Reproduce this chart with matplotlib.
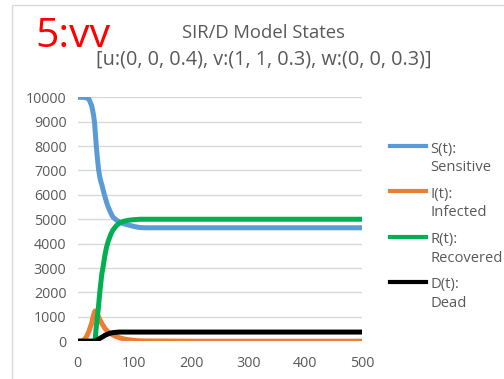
import matplotlib
matplotlib.use("Agg")
import matplotlib.pyplot as plt
from matplotlib.lines import Line2D
from matplotlib.patches import Rectangle

# values
t = [0, 5, 10, 15, 20, 25, 28, 30, 31, 33, 35, 37, 39, 41, 43, 45, 48, 51, 54,
     58, 62, 68, 74, 82, 90, 100, 110, 120, 200, 300, 400, 500]
S = [10000, 10000, 10000, 9980, 9930, 9650, 9300, 8950, 8650, 8000, 7500, 7050,
     6750, 6550, 6400, 6200, 5950, 5700, 5500, 5280, 5100, 4970, 4880, 4810,
     4760, 4700, 4660, 4650, 4650, 4650, 4650, 4650]
I = [0, 0, 30, 150, 400, 750, 1050, 1200, 1240, 1200, 1100, 1000, 900, 800,
     720, 650, 530, 450, 380, 310, 260, 190, 140, 90, 60, 30, 15, 10, 0, 0, 0, 0]
R = [0, 0, 0, 0, 0, 0, 0, 0, 50, 600, 1000, 1450, 1960, 2400, 2800, 3050, 3500,
     3850, 4100, 4350, 4550, 4730, 4850, 4920, 4960, 4985, 5000, 5000, 5000,
     5000, 5000, 5000]
D = [0, 0, 0, 0, 0, 0, 0, 0, 0, 20, 50, 80, 110, 140, 165, 190, 240, 270, 300,
     330, 350, 365, 375, 375, 375, 375, 375, 375, 375, 375, 375, 375]

labels = ["S(t):\nSensitive", "I(t):\nInfected", "R(t):\nRecovered", "D(t):\nDead"]
colors = ["#5B9BD5", "#ED7D31", "#00B050", "#000000"]
xticks = [0, 100, 200, 300, 400, 500]
yticks = list(range(0, 10001, 1000))

W, H = 504, 379
fig = plt.figure(figsize=(W / 100, H / 100), dpi=100)
plt.rcParams['font.family'] = ['Open Sans', 'DejaVu Sans']
grey = "#595959"

# chart frame
fig.add_artist(Rectangle((12 / W, -0.1), 1.2, 1 - 5 / H + 0.1, transform=fig.transFigure,
                         fill=False, edgecolor="#D9D9D9", lw=1.0))

ax = fig.add_axes([77.5 / W, 1 - 341.2 / H, 284.5 / W, 243.9 / H])
for y, c in zip([S, I, R, D], colors):
    ax.plot(t, y, color=c, lw=3.6, solid_capstyle="butt")

ax.set_xlim(0, 500)
ax.set_ylim(0, 10000)
ax.set_xticks(xticks)
ax.set_yticks(yticks)
ax.grid(axis="y", color="#D9D9D9", lw=1.0)
ax.set_axisbelow(True)
for s in ax.spines.values():
    s.set_visible(False)
ax.tick_params(length=0, labelsize=10.3, labelcolor=grey)
ax.tick_params(axis="y", pad=8)
ax.tick_params(axis="x", pad=11)

# titles
fig.text(264 / W, 1 - 33 / H, "SIR/D Model States", ha="center", va="center",
         fontsize=13.3, color=grey)
fig.text(264 / W, 1 - 60 / H, "[u:(0, 0, 0.4), v:(1, 1, 0.3), w:(0, 0, 0.3)]",
         ha="center", va="center", fontsize=14.3, color=grey)
fig.text(35 / W, 1 - 37 / H, "5:vv", ha="left", va="center", fontsize=29.5, color="red")

# legend drawn by hand so the key sits at the first line of the label
for k, (lab, c) in enumerate(zip(labels, colors)):
    yk = 146 + k * 45.3
    fig.add_artist(Line2D([390 / W, 426 / W], [1 - yk / H, 1 - yk / H],
                          color=c, lw=3.0, transform=fig.transFigure))
    first, second = lab.split("\n")
    fig.text(430 / W, 1 - (yk + 3) / H, first, va="center", fontsize=10.6, color=grey)
    fig.text(430 / W, 1 - (yk + 21.5) / H, second, va="center", fontsize=10.6, color=grey)

fig.savefig("out.png", dpi=100)
